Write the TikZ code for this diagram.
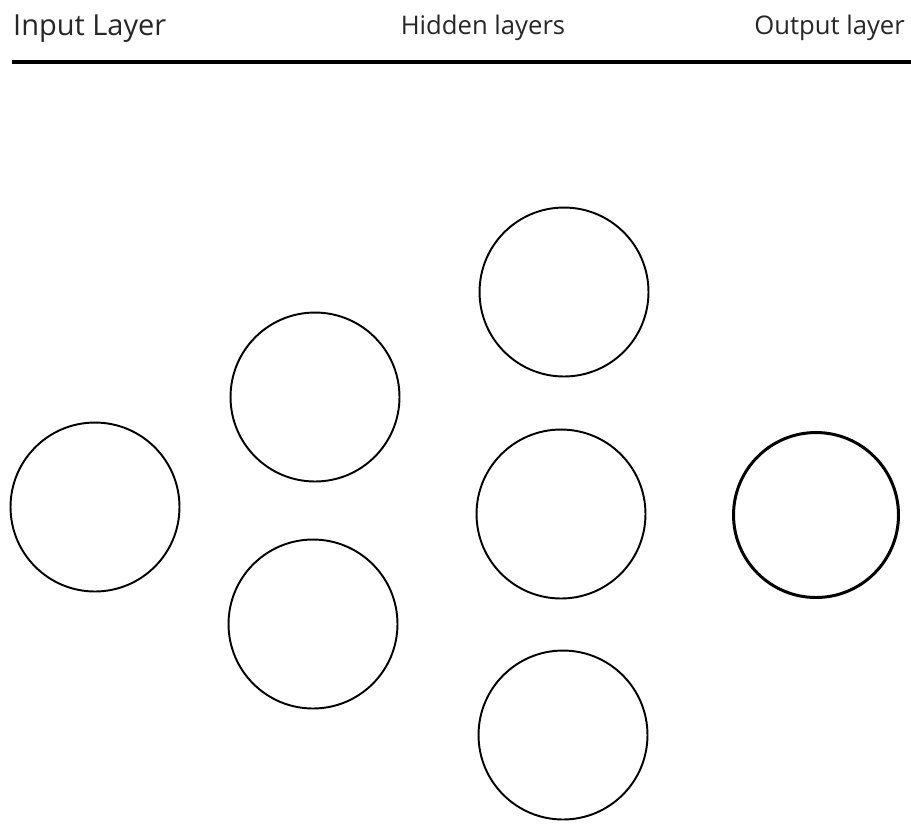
\documentclass[tikz,border=0pt]{standalone}
\usepackage{fontspec}
\setmainfont{Open Sans}
\usetikzlibrary{positioning}

\tikzset{
  neuron/.style={circle, draw=black, line width=1.1pt, inner sep=0pt, minimum size=3.38cm},
  outneuron/.style={neuron, line width=1.7pt, minimum size=3.3cm},
  heading/.style={font=\fontsize{14.6}{17}\selectfont, text=black!85}
}

\begin{document}
\begin{tikzpicture}[x=0.02cm, y=-0.02cm]

\useasboundingbox (0,0) rectangle (911,823);

% titles and rule
\node[heading, anchor=base west, font=\fontsize{16.5}{18}\selectfont] (tin) at (7,35) {Input Layer};
\node[heading, anchor=base] (thid) at (483,34) {Hidden layers};
\node[heading, anchor=base east] (tout) at (911,34) {Output layer};
\coordinate (ruleL) at (12,62);
\coordinate (ruleR) at (911,62);
\draw[line width=2.3pt] (ruleL) -- (ruleR);

% input
\node[neuron] (x1) at (95,507) {};

% first hidden layer
\node[neuron] (h11) at (315,397) {};
\node[neuron] (h12) at (313,624) {};

% second hidden layer
\node[neuron] (h21) at (564,292) {};
\node[neuron] (h22) at (561,514) {};
\node[neuron] (h23) at (563,735) {};

% output
\node[outneuron] (y1) at (816,515) {};

\end{tikzpicture}
\end{document}
